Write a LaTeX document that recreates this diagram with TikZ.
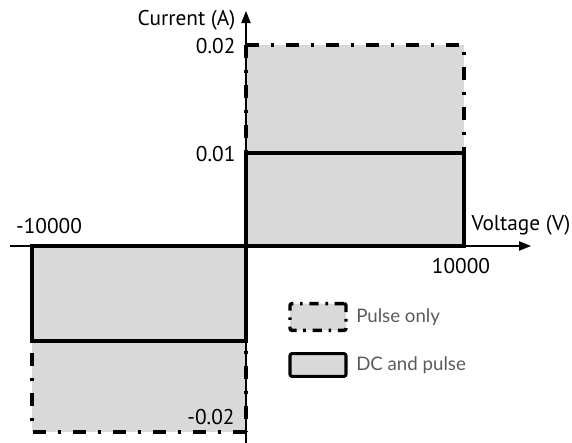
\documentclass[tikz,border=0pt]{standalone}
\usepackage{fontspec}
\setmainfont{PT Sans}
\newfontfamily\legendfont{Lato}
\usetikzlibrary{arrows.meta}
\definecolor{areagray}{HTML}{D9D9D9}
\definecolor{legendtext}{HTML}{5A5A5A}
\tikzset{
	axisline/.style={line width=0.8pt, -{Triangle[length=9pt,width=7pt]}},
	pulsebox/.style={line width=3pt, dash pattern=on 10pt off 9pt on 2pt off 9pt},
	dcbox/.style={line width=2.3pt},
	ticklabel/.style={font=\fontsize{16}{18}\selectfont, inner sep=1pt},
	legendbox/.style={draw, fill=areagray, minimum width=42pt, rounded corners=1.5pt},
	legendlabel/.style={font=\legendfont\fontsize{14}{16}\selectfont, text=legendtext, anchor=west, inner sep=0pt}
}
\begin{document}
\begin{tikzpicture}[x=0.75pt, y=-0.75pt]
\useasboundingbox (0,0) rectangle (572,443);
% origin and axis ends
\coordinate (o) at (246,246);
\coordinate (xl) at (10,246);
\coordinate (xr) at (531,246);
\coordinate (yb) at (246,443);
\coordinate (yt) at (246,11);
% corners of the areas
\coordinate (pmax) at (464,45);
\coordinate (pmin) at (32,432);
\coordinate (dmax) at (464,153);
\coordinate (dmin) at (32,341);
% grey areas
\fill[areagray] (o) rectangle (pmax);
\fill[areagray] (o) rectangle (pmin);
% axes
\draw[axisline] (xl) -- (xr);
\draw[axisline] (yb) -- (yt);
% pulse only limits
\draw[pulsebox] (o |- pmax) -- (pmax) -- (pmax |- o);
\draw[pulsebox] (o |- pmax) -- (o);
\draw[pulsebox] (o |- pmin) -- (pmin) -- (pmin |- o);
\draw[pulsebox] (o) -- (o |- pmin);
% DC and pulse limits
\draw[dcbox] (o) rectangle (dmax);
\draw[dcbox] (o) rectangle (dmin);
% labels
\node[ticklabel, anchor=east] (ylabel) at (237,20) {Current (A)};
\node[ticklabel, anchor=east] (imax) at (237,46) {0.02};
\node[ticklabel, anchor=east] (idc) at (237,154) {0.01};
\node[ticklabel, anchor=south] at (49,235) (vmin) {-10000};
\node[ticklabel, anchor=west] (xlabel) at (470,225) {Voltage (V)};
\node[ticklabel, anchor=north] (vmax) at (461,257) {10000};
\node[ticklabel] (imin) at (211,417) {-0.02};
% legend
\node[legendbox, pulsebox, line width=2.6pt, dash pattern=on 7pt off 5pt on 2pt off 5pt, minimum height=20pt] (legpulse) at (318,317) {};
\node[legendlabel] (legpulsetext) at (356,317) {Pulse only};
\node[legendbox, dcbox, minimum height=17pt] (legdc) at (318,365) {};
\node[legendlabel] (legdctext) at (356,365) {DC and pulse};
\end{tikzpicture}
\end{document}
